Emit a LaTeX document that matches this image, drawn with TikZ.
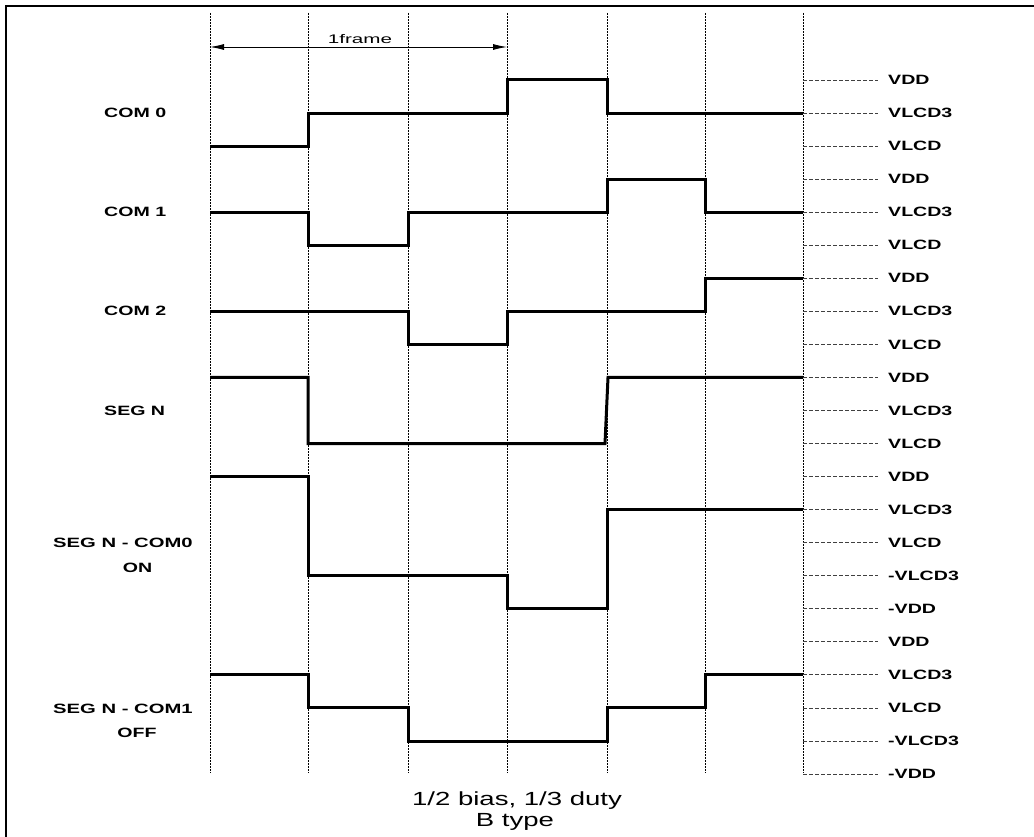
\documentclass[tikz,border=0pt]{standalone}
\usepackage{fontspec}
\setmainfont{Liberation Sans}
\usepackage{graphicx}
\usetikzlibrary{arrows.meta}
\newcommand{\wtxt}[2]{\scalebox{#1}[1]{#2}}
\begin{document}
\begin{tikzpicture}[x=1pt,y=-1pt,
  declare function={lv(\k)=80+33.05*\k;},
  gridline/.style={line width=1pt, dash pattern=on 2pt off 1pt, black},
  tickline/.style={line width=0.9pt, dash pattern=on 4pt off 2pt, black!75},
  wave/.style={line width=3pt, line join=miter, line cap=butt, black},
  lvl/.style={anchor=west, font=\fontsize{13.5}{15}\selectfont\bfseries, inner sep=0pt},
  siglab/.style={anchor=west, font=\fontsize{13.5}{15}\selectfont\bfseries, inner sep=0pt},
  sigsub/.style={anchor=center, font=\fontsize{13.5}{15}\selectfont\bfseries, inner sep=0pt},
  caption/.style={anchor=base, font=\fontsize{19}{22}\selectfont, inner sep=0pt},
  dim/.style={line width=0.9pt, {Latex[length=14pt,width=6pt]}-{Latex[length=14pt,width=6pt]}}
]
\useasboundingbox (0,0) rectangle (1034,837);
\fill[white] (0,0) rectangle (1034,837);
% frame border
\coordinate (bl) at (6,837);
\coordinate (tlc) at (6,6);
\coordinate (tr) at (1034,6);
\draw[line width=2pt] (bl) -- (tlc) -- (tr);
% vertical grid lines
\foreach \i/\x in {0/210,1/308,2/408,3/507,4/607,5/705,6/803} {
  \coordinate (gt\i) at (\x,13);
  \coordinate (gb\i) at (\x,773);
  \draw[gridline] (gt\i) -- (gb\i);
}
% level ticks and labels
\foreach \k/\lab in {0/VDD,1/VLCD3,2/VLCD,3/VDD,4/VLCD3,5/VLCD,6/VDD,7/VLCD3,8/VLCD,9/VDD,10/VLCD3,11/VLCD,12/VDD,13/VLCD3,14/VLCD,15/-VLCD3,16/-VDD,17/VDD,18/VLCD3,19/VLCD,20/-VLCD3,21/-VDD} {
  \coordinate (ts\k) at (803,{lv(\k)});
  \coordinate (te\k) at (878,{lv(\k)});
  \node[lvl] (L\k) at (888,{lv(\k)}) {\wtxt{1.45}{\lab}};
  \draw[tickline] (ts\k) -- (te\k);
}
% 1frame dimension
\coordinate (fa) at (210,47);
\coordinate (fb) at (507,47);
\draw[dim] (fa) -- (fb);
\node[anchor=center, font=\fontsize{12.5}{14}\selectfont, inner sep=0pt] (fr) at (360,39.5) {\wtxt{1.65}{1frame}};
% signal labels
\node[siglab] (c0) at (104,{lv(1)}) {\wtxt{1.45}{COM 0}};
\node[siglab] (c1) at (104,{lv(4)}) {\wtxt{1.45}{COM 1}};
\node[siglab] (c2) at (104,{lv(7)}) {\wtxt{1.45}{COM 2}};
\node[siglab] (sn) at (104,{lv(10)}) {\wtxt{1.45}{SEG N}};
\node[siglab] (d0) at (53,543) {\wtxt{1.5}{SEG N - COM0}};
\node[sigsub] (d0b) at (137.5,568) {\wtxt{1.45}{ON}};
\node[siglab] (d1) at (53,709) {\wtxt{1.5}{SEG N - COM1}};
\node[sigsub] (d1b) at (137,733) {\wtxt{1.45}{OFF}};
% waveforms
\draw[wave] (210,{lv(2)}) -- (308,{lv(2)}) -- (308,{lv(1)}) -- (507,{lv(1)}) -- (507,{lv(0)}) -- (607,{lv(0)}) -- (607,{lv(1)}) -- (803,{lv(1)});
\draw[wave] (210,{lv(4)}) -- (308,{lv(4)}) -- (308,{lv(5)}) -- (408,{lv(5)}) -- (408,{lv(4)}) -- (607,{lv(4)}) -- (607,{lv(3)}) -- (705,{lv(3)}) -- (705,{lv(4)}) -- (803,{lv(4)});
\draw[wave] (210,{lv(7)}) -- (408,{lv(7)}) -- (408,{lv(8)}) -- (507,{lv(8)}) -- (507,{lv(7)}) -- (705,{lv(7)}) -- (705,{lv(6)}) -- (803,{lv(6)});
\draw[wave] (210,{lv(9)}) -- (308,{lv(9)}) -- (308,{lv(11)}) -- (605,{lv(11)}) -- (608,{lv(9)}) -- (803,{lv(9)});
\draw[wave] (210,{lv(12)}) -- (308,{lv(12)}) -- (308,{lv(15)}) -- (507,{lv(15)}) -- (507,{lv(16)}) -- (607,{lv(16)}) -- (607,{lv(13)}) -- (803,{lv(13)});
\draw[wave] (210,{lv(18)}) -- (308,{lv(18)}) -- (308,{lv(19)}) -- (408,{lv(19)}) -- (408,{lv(20)}) -- (607,{lv(20)}) -- (607,{lv(19)}) -- (705,{lv(19)}) -- (705,{lv(18)}) -- (803,{lv(18)});
% caption
\node[caption] (cap1) at (517,805) {\wtxt{1.45}{1/2 bias, 1/3 duty}};
\node[caption] (cap2) at (515,826) {\wtxt{1.45}{B type}};
\end{tikzpicture}
\end{document}
